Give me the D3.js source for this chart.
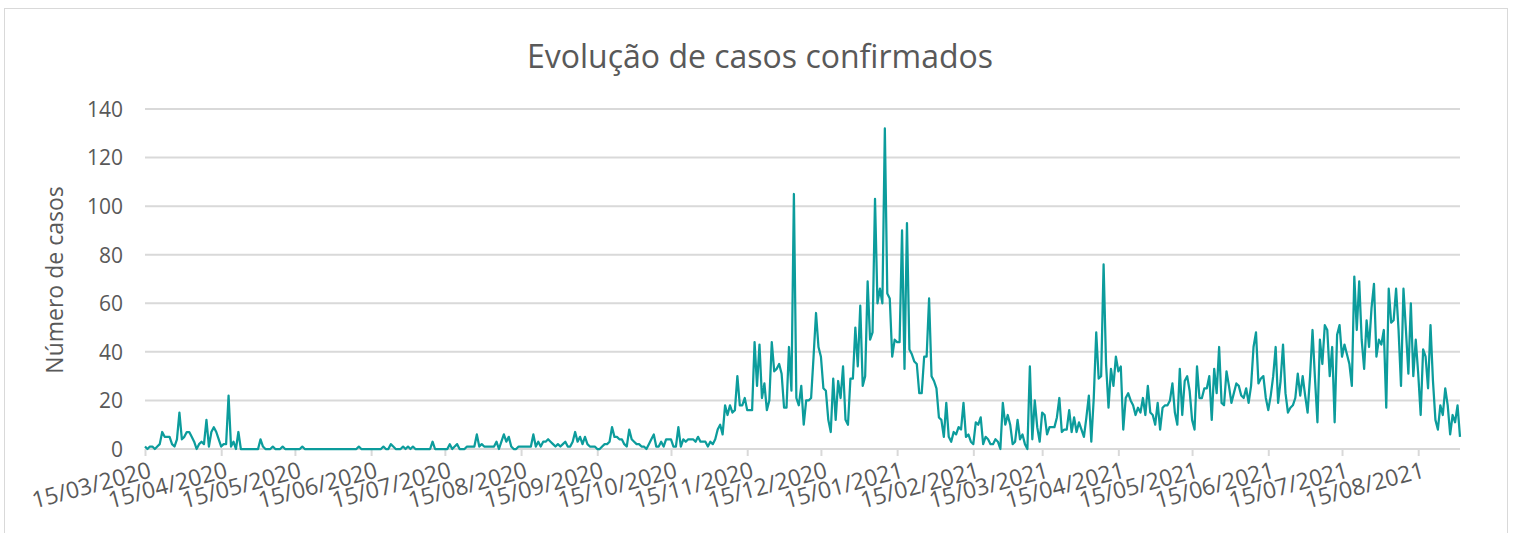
<!DOCTYPE html>
<html><head><meta charset="utf-8">
<script src="https://cdn.jsdelivr.net/npm/d3@7/dist/d3.min.js"></script>
<style>
body{margin:0;background:#fff}
svg{display:block}
text{font-family:"Open Sans",sans-serif;fill:#595959}
</style>
</head><body>
<svg id="chart" width="1519" height="533"></svg>
<script>
// ---------- data ----------
const startDate = "2020-03-15";           // first day of the series
// daily confirmed cases, consecutive days, in blocks of 100
const casesBlock1 = [1,0,1,1,0,1,2,7,5,5, 5,2,1,4,15,4,5,7,7,5, 3,0,2,3,2,12,1,7,9,7, 4,1,2,2,22,1,3,0,7,0,
  0,0,0,0,0,0,0,4,1,0, 0,0,1,0,0,0,1,0,0,0, 0,0,0,0,1,0,0,0,0,0, 0,0,0,0,0,0,0,0,0,0,
  0,0,0,0,0,0,0,1,0,0, 0,0,0,0,0,0,0,1,0,0];
const casesBlock2 = [2,1,0,0,0,1,0,1,0,1, 0,0,0,0,0,0,0,3,0,0, 0,0,0,0,2,0,1,2,0,0, 0,1,1,1,1,6,1,2,1,1,
  1,1,1,3,0,3,6,3,5,1, 0,0,1,1,1,1,1,1,6,1, 3,1,3,3,4,3,2,1,2,1, 2,3,1,1,3,7,3,5,2,5,
  2,1,1,1,0,0,1,2,2,3, 9,5,5,4,4,2,1,8,4,3];
const casesBlock3 = [2,2,1,1,0,2,4,6,1,1, 3,1,4,4,4,1,1,9,1,4, 3,4,4,4,3,5,3,3,3,1, 3,2,4,8,10,6,18,14,18,15,
  16,30,18,18,21,16,16,16,44,26, 43,21,27,16,20,44,32,33,35,31, 17,17,42,24,105,21,18,26,10,20,
  20,21,38,56,42,38,25,24,12,7, 29,12,28,21,34,12,10,29,29,50, 34,59,26,30,69,45,48,103,60,66];
const casesBlock4 = [60,132,64,62,38,45,44,44,90,33, 93,41,39,36,35,23,23,38,38,62, 30,28,25,13,12,5,19,5,3,7,
  6,9,8,19,5,6,3,2,11,10, 13,2,5,4,2,2,4,3,0,19, 10,14,10,2,3,12,4,6,2,0, 34,4,20,9,3,15,14,6,9,9,
  9,13,21,7,8,8,16,7,13,7, 11,8,5,13,22,3,21,48,29,30, 76,35,17,33,26,38,32,34,8,21];
const casesBlock5 = [23,20,18,14,17,15,21,14,26,15, 14,10,19,8,17,18,18,20,27,15, 10,33,14,28,30,24,12,8,34,21,
  21,25,25,30,12,33,23,42,19,18, 32,26,19,23,27,26,22,21,25,19, 26,42,48,27,29,30,21,16,22,30,
  42,19,28,43,23,15,17,18,21,31, 22,30,22,15,30,49,29,11,45,35, 51,49,30,42,11,47,51,38,43,39,
  35,26,71,49,69,45,33,53,42,58];
const casesBlock6 = [68,38,45,43,49,17,66,52,53,66, 49,26,66,49,31,60,30,45,31,14, 41,38,25,51,28,12,8,18,14,25,
  18,6,14,11,18,5];

const yTickValues = [0,20,40,60,80,100,120,140];
const xTickLabels = ["15/03/2020","15/04/2020","15/05/2020","15/06/2020","15/07/2020","15/08/2020",
  "15/09/2020","15/10/2020","15/11/2020","15/12/2020","15/01/2021","15/02/2021","15/03/2021",
  "15/04/2021","15/05/2021","15/06/2021","15/07/2021","15/08/2021"];
const chartTitle = "Evolução de casos confirmados";
const yAxisTitle = "Número de casos";

// ---------- build ----------
const cases = [].concat(casesBlock1, casesBlock2, casesBlock3, casesBlock4, casesBlock5, casesBlock6);
const t0 = d3.utcParse("%Y-%m-%d")(startDate);
const data = cases.map((v, i) => ({date: d3.utcDay.offset(t0, i), value: v}));
const parseLabel = d3.utcParse("%d/%m/%Y");
const tickDates = xTickLabels.map(parseLabel);

const svg = d3.select("#chart");
const plotLeft = 145, plotRight = 1460, plotTop = 109, plotBottom = 449;

const x = d3.scaleUtc().domain([t0, data[data.length - 1].date]).range([plotLeft, plotRight]);
const y = d3.scaleLinear().domain([0, 140]).range([plotBottom, plotTop]);

// border
svg.append("rect").attr("x", 4.5).attr("y", 8.5).attr("width", 1503).attr("height", 540)
  .attr("fill", "#fff").attr("stroke", "#d9d9d9").attr("stroke-width", 1);

// title
svg.append("text").attr("x", 760).attr("y", 68).attr("text-anchor", "middle")
  .style("font-size", "32px").text(chartTitle);

// gridlines
svg.append("g").selectAll("line").data(yTickValues).join("line")
  .attr("x1", plotLeft).attr("x2", plotRight)
  .attr("y1", d => y(d)).attr("y2", d => y(d))
  .attr("stroke", "#d9d9d9").attr("stroke-width", 2);

// y axis labels
const yAxis = d3.axisLeft(y).tickValues(yTickValues).tickSize(0).tickPadding(0);
const gy = svg.append("g").attr("transform", `translate(${plotLeft - 22},0)`).call(yAxis);
gy.select(".domain").remove();
gy.selectAll("text").style("font-size", "21px").style("font-family", '"Open Sans",sans-serif')
  .attr("fill", "#595959").attr("dy", "0.35em");

// x axis ticks
const xAxis = d3.axisBottom(x).tickValues(tickDates).tickSize(7).tickFormat((d, i) => xTickLabels[i]);
const gx = svg.append("g").attr("transform", `translate(0,${plotBottom})`).call(xAxis);
gx.select(".domain").attr("stroke", "#d9d9d9").attr("stroke-width", 2)
  .attr("d", `M${plotLeft},0H${plotRight}`);
gx.selectAll(".tick line").attr("stroke", "#d9d9d9").attr("stroke-width", 2);
gx.selectAll(".tick text")
  .style("font-size", "23px").style("font-family", '"Open Sans",sans-serif').attr("fill", "#595959")
  .attr("text-anchor", "end").attr("y", 0).attr("dy", 0)
  .attr("transform", "translate(7,28) rotate(-15)");

// y axis title
svg.append("text").attr("transform", "translate(63,280) rotate(-90)")
  .attr("text-anchor", "middle").style("font-size", "23px").text(yAxisTitle);

// line
const line = d3.line().x(d => x(d.date)).y(d => y(d.value));
svg.append("path").datum(data).attr("d", line)
  .attr("fill", "none").attr("stroke", "#0c9c9c").attr("stroke-width", 2.25)
  .attr("stroke-linejoin", "round");
</script>
</body></html>
